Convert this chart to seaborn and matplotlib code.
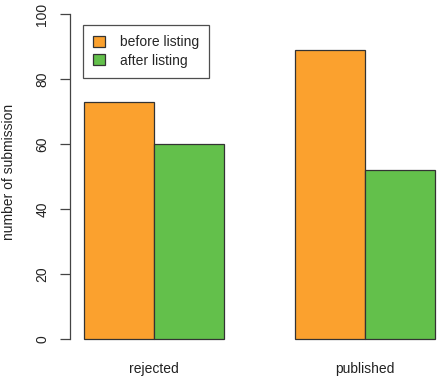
import matplotlib
matplotlib.use("Agg")
import matplotlib.pyplot as plt
import seaborn as sns
import pandas as pd

categories = ["rejected", "published"]
series_names = ["before listing", "after listing"]
before_listing = [73, 89]
after_listing = [60, 52]
y_ticks = [0, 20, 40, 60, 80, 100]
colors = ["#FBA12E", "#63C04B"]

df = pd.DataFrame({
    "status": categories * 2,
    "phase": [series_names[0]] * len(categories) + [series_names[1]] * len(categories),
    "count": before_listing + after_listing,
})

sns.set_style("white")
plt.rcParams["font.family"] = ["Liberation Sans", "DejaVu Sans"]

fig = plt.figure(figsize=(4.42, 3.78), dpi=100)
ax = fig.add_axes([70 / 442, 26 / 378, 372 / 442, 351 / 378])

sns.barplot(data=df, x="status", y="count", hue="phase", order=categories,
            hue_order=series_names, palette=colors, width=2 / 3, gap=0,
            edgecolor="#333333", linewidth=0.9, saturation=1, ax=ax, legend=True)

ax.set_xlim(-0.4, -0.4 + (372 / 70.2) / 3)
ax.set_ylim(-4, 104)
ax.set_yticks(y_ticks)
ax.set_yticklabels([str(t) for t in y_ticks], rotation=90, va="center", fontsize=10, color="#222222")
ax.tick_params(axis="y", length=7, width=0.9, color="#444444", pad=8, left=True)
ax.tick_params(axis="x", length=0, pad=7, labelsize=10, labelcolor="#222222")
ax.set_xlabel("")
ax.set_ylabel("number of submission", fontsize=10, color="#222222")
ax.yaxis.set_label_coords(-54 / 372, 0.513)

for s in ["top", "right", "bottom"]:
    ax.spines[s].set_visible(False)
ax.spines["left"].set_bounds(0, 100)
ax.spines["left"].set_color("#444444")
ax.spines["left"].set_linewidth(0.9)

leg = ax.legend(loc="upper left", bbox_to_anchor=(13 / 372, 1 - 24 / 351),
                frameon=True, fancybox=False, fontsize=10, handlelength=0.8,
                handleheight=0.8, handletextpad=1.1, borderpad=0.75, labelspacing=0.3,
                borderaxespad=0, title=None)
leg.get_frame().set_edgecolor("#222222")
leg.get_frame().set_linewidth(0.9)
leg.get_frame().set_boxstyle("square", pad=0)

fig.savefig("out.png", dpi=100)
